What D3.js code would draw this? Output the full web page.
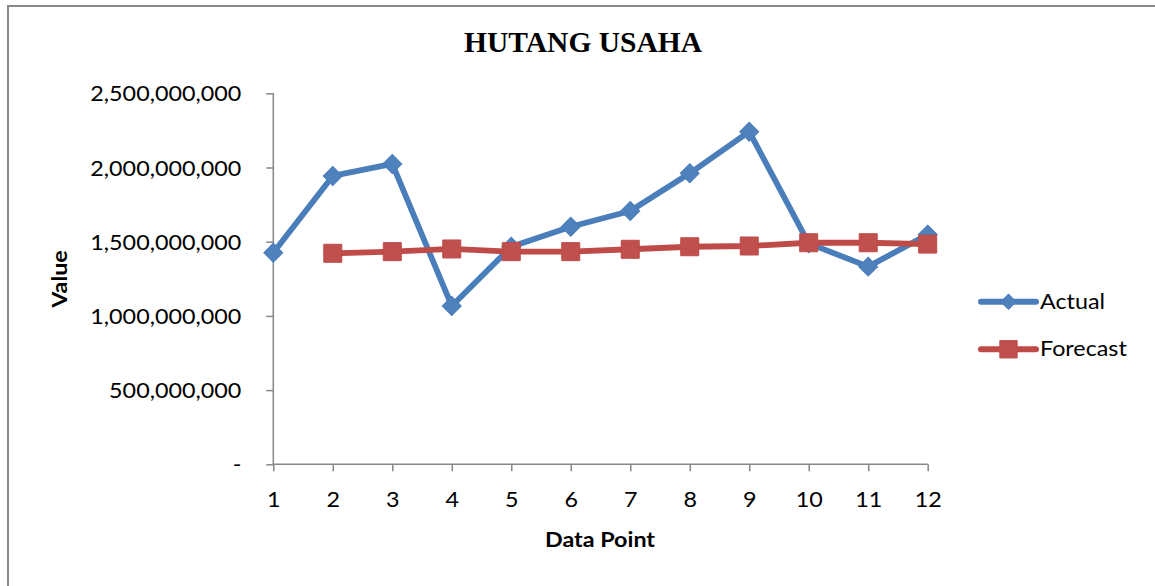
<!DOCTYPE html>
<html>
<head>
<meta charset="utf-8">
<script src="https://cdn.jsdelivr.net/npm/d3@7"></script>
<style>
html,body{margin:0;padding:0;background:#fff;}
svg{display:block;}
</style>
</head>
<body>
<svg id="chart" width="1155" height="586"></svg>
<script>
// ---- data ----
const categories = [1,2,3,4,5,6,7,8,9,10,11,12];
const actual   = [1.426e9,1.943e9,2.024e9,1.067e9,1.466e9,1.601e9,1.707e9,1.961e9,2.241e9,1.489e9,1.332e9,1.548e9];
const forecast = [null,1.422e9,1.433e9,1.451e9,1.433e9,1.433e9,1.449e9,1.466e9,1.471e9,1.493e9,1.493e9,1.484e9];
const yTickValues = [0,5e8,1e9,1.5e9,2e9,2.5e9];
const seriesNames = ["Actual","Forecast"];
const titleText = "HUTANG USAHA";
const xTitle = "Data Point";
const yTitle = "Value";

// ---- layout ----
const svg = d3.select("#chart");
const axisColor = "#878787";
const labelFont = "Lato, 'Open Sans', sans-serif";
const fontSize = 21;
const stretch = 1.11;
const blue = {line:"#4A7EBB", fill:"#4F81BD"};
const red  = {line:"#BE4B48", fill:"#C0504D"};

// outer border
svg.append("path").attr("d","M8,586 L8,6 L1155,6")
  .attr("fill","none").attr("stroke","#888").attr("stroke-width",2);

const x = d3.scalePoint().domain(categories).range([273.3, 927.7]);
const y = d3.scaleLinear().domain([0,2.5e9]).range([464.3, 93.3]);

// title
svg.append("text").attr("x",583).attr("y",52).attr("text-anchor","middle")
  .attr("font-family","'Liberation Serif','Times New Roman',serif").attr("font-weight","bold")
  .attr("font-size",29.5).attr("fill","#000").text(titleText);

// y axis
const yAxis = d3.axisLeft(y).tickValues(yTickValues).tickSize(7)
  .tickFormat(d => d === 0 ? "-" : d3.format(",")(d));
const gy = svg.append("g").attr("transform",`translate(${x(1)},0)`).call(yAxis);
gy.select(".domain").attr("stroke",axisColor).attr("stroke-width",1.5).attr("d",`M0,${y(2.5e9)}V${y(0)}`);
gy.selectAll(".tick line").attr("stroke",axisColor).attr("stroke-width",1.5);
gy.selectAll(".tick text").attr("x",0).attr("dy","0.36em")
  .attr("transform","translate(-32,0) scale(" + stretch + ",1)")
  .attr("font-family",labelFont).attr("font-size",fontSize).attr("fill","#000");

// x axis
const xAxis = d3.axisBottom(x).tickSize(7).tickPadding(0);
const gx = svg.append("g").attr("transform",`translate(0,${y(0)})`).call(xAxis);
gx.select(".domain").attr("stroke",axisColor).attr("stroke-width",1.5).attr("d",`M${x(1)},0H${x(12)}`);
gx.selectAll(".tick line").attr("stroke",axisColor).attr("stroke-width",1.5);
gx.selectAll(".tick text").attr("y",0).attr("dy",0)
  .attr("transform","translate(0,43) scale(" + stretch + ",1)")
  .attr("font-family",labelFont).attr("font-size",fontSize).attr("fill","#000");

// axis titles
svg.append("text").attr("transform",`translate(600,547) scale(${stretch},1)`).attr("text-anchor","middle")
  .attr("font-family",labelFont).attr("font-weight","bold").attr("font-size",fontSize).text(xTitle);
svg.append("text").attr("transform",`translate(67,279) rotate(-90) scale(${stretch},1)`).attr("text-anchor","middle")
  .attr("font-family",labelFont).attr("font-weight","bold").attr("font-size",fontSize).text(yTitle);

// lines
const line = d3.line().defined(d => d.v != null).x(d => x(d.c)).y(d => y(d.v));
const actualData = categories.map((c,i)=>({c, v:actual[i]}));
const forecastData = categories.map((c,i)=>({c, v:forecast[i]}));

const diamond = d3.symbol().type(d3.symbolSquare).size(180);
const square = d3.symbol().type(d3.symbolSquare).size(324);

svg.append("path").datum(actualData).attr("d",line).attr("fill","none")
  .attr("stroke",blue.line).attr("stroke-width",5.8).attr("stroke-linejoin","round").attr("stroke-linecap","round");
svg.append("g").selectAll("path").data(actualData.filter(d=>d.v!=null)).join("path")
  .attr("d",diamond).attr("transform",d=>`translate(${x(d.c)},${y(d.v)}) rotate(45)`)
  .attr("fill",blue.fill).attr("stroke",blue.line).attr("stroke-width",1);

svg.append("path").datum(forecastData).attr("d",line).attr("fill","none")
  .attr("stroke",red.line).attr("stroke-width",5.8).attr("stroke-linejoin","round").attr("stroke-linecap","round");
svg.append("g").selectAll("path").data(forecastData.filter(d=>d.v!=null)).join("path")
  .attr("d",square).attr("transform",d=>`translate(${x(d.c)},${y(d.v)})`)
  .attr("fill",red.fill).attr("stroke",red.line).attr("stroke-width",1);

// legend
const legendItems = [
  {name:seriesNames[0], col:blue, sym:d3.symbol().type(d3.symbolSquare).size(115), rot:45, y:301.7},
  {name:seriesNames[1], col:red, sym:d3.symbol().type(d3.symbolSquare).size(300), rot:0, y:349.3}
];
const lg = svg.append("g").selectAll("g").data(legendItems).join("g");
lg.append("line").attr("x1",981).attr("x2",1036).attr("y1",d=>d.y).attr("y2",d=>d.y)
  .attr("stroke",d=>d.col.line).attr("stroke-width",6).attr("stroke-linecap","round");
lg.append("path").attr("d",d=>d.sym()).attr("transform",d=>`translate(1008.5,${d.y}) rotate(${d.rot})`)
  .attr("fill",d=>d.col.fill).attr("stroke",d=>d.col.line).attr("stroke-width",1);
lg.append("text").attr("transform",d=>`translate(1040,${d.y+7}) scale(${stretch},1)`)
  .attr("font-family",labelFont).attr("font-size",fontSize).attr("fill","#000").text(d=>d.name);
</script>
</body>
</html>
